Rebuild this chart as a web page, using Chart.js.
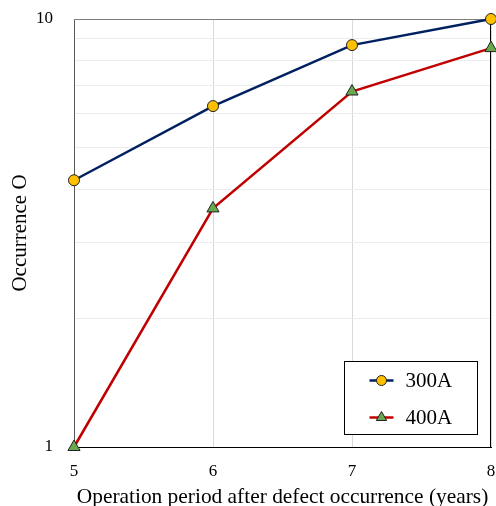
<!DOCTYPE html>
<html><head><meta charset="utf-8">
<script src="https://cdn.jsdelivr.net/npm/chart.js@4/dist/chart.umd.min.js"></script>
<style>html,body{margin:0;padding:0;background:#fff;overflow:hidden;} #wrap{width:496px;height:506px;position:relative;} canvas{display:block;}</style>
</head><body><div id="wrap"><canvas id="c" width="496" height="506"></canvas></div>
<script>
const years = [5, 6, 7, 8];
const occurrence300A = [4.2, 6.26, 8.69, 10];
const occurrence400A = [1, 3.61, 6.77, 8.55];
const seriesNames = ['300A', '400A'];
const yTickValues = [1, 2, 3, 4, 5, 6, 7, 8, 9, 10];
const yLabeledTicks = [1, 10];
const xTitle = 'Operation period after defect occurrence (years)';
const yTitle = 'Occurrence O';

const FONT = '"Liberation Serif", "Times New Roman", serif';

function drawMarker(ctx, style, x, y, r, fill, stroke) {
  ctx.save();
  ctx.beginPath();
  if (style === 'circle') {
    ctx.arc(x, y, r, 0, Math.PI * 2);
  } else {
    let rad = 0;
    ctx.moveTo(x + Math.sin(rad) * r, y - Math.cos(rad) * r);
    rad += Math.PI * 2 / 3;
    ctx.lineTo(x + Math.sin(rad) * r, y - Math.cos(rad) * r);
    rad += Math.PI * 2 / 3;
    ctx.lineTo(x + Math.sin(rad) * r, y - Math.cos(rad) * r);
  }
  ctx.closePath();
  ctx.fillStyle = fill; ctx.fill();
  ctx.lineWidth = 1; ctx.strokeStyle = stroke; ctx.stroke();
  ctx.restore();
}

const frame = {
  id: 'frame',
  beforeDatasetsDraw(chart) {
    const {ctx, chartArea: a} = chart;
    ctx.save();
    ctx.lineWidth = 1;
    ctx.strokeStyle = '#7f7f7f';
    ctx.beginPath(); ctx.moveTo(a.left, a.top + 0.5); ctx.lineTo(a.right, a.top + 0.5); ctx.stroke();
    ctx.strokeStyle = '#000';
    ctx.beginPath(); ctx.moveTo(a.right - 0.5, a.top); ctx.lineTo(a.right - 0.5, a.bottom); ctx.stroke();
    ctx.restore();
  }
};

const boxLegend = {
  id: 'boxLegend',
  afterDatasetsDraw(chart) {
    const {ctx, chartArea: a} = chart;
    const bw = 133, bh = 73;
    const bx = Math.round(a.right - 14 - bw) + 0.5, by = Math.round(a.bottom - 13 - bh) + 0.5;
    ctx.save();
    ctx.fillStyle = '#fff';
    ctx.fillRect(bx, by, bw, bh);
    ctx.strokeStyle = '#000'; ctx.lineWidth = 1;
    ctx.strokeRect(bx, by, bw, bh);
    chart.data.datasets.forEach((ds, i) => {
      const cy = by + 19 + i * 37;
      const lx = bx + 25;
      ctx.strokeStyle = ds.borderColor; ctx.lineWidth = 2.5;
      ctx.beginPath(); ctx.moveTo(lx, cy); ctx.lineTo(lx + 24, cy); ctx.stroke();
      const r = ds.pointStyle === 'circle' ? 5 : 6;
      drawMarker(ctx, ds.pointStyle, lx + 12, cy, r, ds.pointBackgroundColor, ds.pointBorderColor);
      ctx.fillStyle = '#000';
      ctx.font = '21px ' + FONT;
      ctx.textBaseline = 'middle'; ctx.textAlign = 'left';
      ctx.fillText(ds.label, lx + 36, cy + 1);
    });
    ctx.restore();
  }
};

const ctx = document.getElementById('c').getContext('2d');
new Chart(ctx, {
  type: 'line',
  data: {
    datasets: [
      {
        label: seriesNames[0],
        data: years.map((x, i) => ({x, y: occurrence300A[i]})),
        borderColor: '#002060', borderWidth: 2.5,
        pointStyle: 'circle', pointRadius: 5.5,
        pointBackgroundColor: '#FFC000', pointBorderColor: '#222', pointBorderWidth: 1,
        clip: false, tension: 0
      },
      {
        label: seriesNames[1],
        data: years.map((x, i) => ({x, y: occurrence400A[i]})),
        borderColor: '#C00000', borderWidth: 2.5,
        pointStyle: 'triangle', pointRadius: 7,
        pointBackgroundColor: '#6AA84F', pointBorderColor: '#222', pointBorderWidth: 1,
        clip: false, tension: 0
      }
    ]
  },
  options: {
    responsive: false,
    animation: false,
    layout: {autoPadding: false, padding: {top: 19, right: 5, bottom: 0, left: 0}},
    plugins: {legend: {display: false}, tooltip: {enabled: false}},
    scales: {
      x: {
        type: 'linear', min: years[0], max: years[years.length - 1],
        ticks: {stepSize: 1, color: '#000', font: {family: FONT, size: 17}, padding: 14},
        grid: {color: '#d9d9d9', drawTicks: false, lineWidth: 1},
        border: {display: true, color: '#000', width: 1},
        title: {display: true, text: xTitle, color: '#000', font: {family: FONT, size: 21.4, lineHeight: '18px'}, padding: {top: 0, bottom: 0}},
        afterFit(s) { s.height = 59; s.paddingLeft = 0; s.paddingRight = 0; s.paddingTop = 0; s.paddingBottom = 0; }
      },
      y: {
        type: 'logarithmic', min: 1, max: 10,
        afterBuildTicks(s) { s.ticks = yTickValues.map(v => ({value: v})); },
        ticks: {
          color: '#000', font: {family: FONT, size: 17}, padding: 21, autoSkip: false,
          callback: (v) => yLabeledTicks.includes(v) ? String(v) : ''
        },
        grid: {color: '#ececec', drawTicks: false, lineWidth: 1},
        border: {display: true, color: '#595959', width: 1},
        title: {display: true, text: yTitle, color: '#000', font: {family: FONT, size: 21, lineHeight: '22px'}, padding: {top: 9, bottom: 0}},
        afterFit(s) { s.width = 74; s.paddingLeft = 0; s.paddingRight = 0; s.paddingTop = 0; s.paddingBottom = 0; }
      }
    }
  },
  plugins: [frame, boxLegend]
});
</script>
</body></html>
